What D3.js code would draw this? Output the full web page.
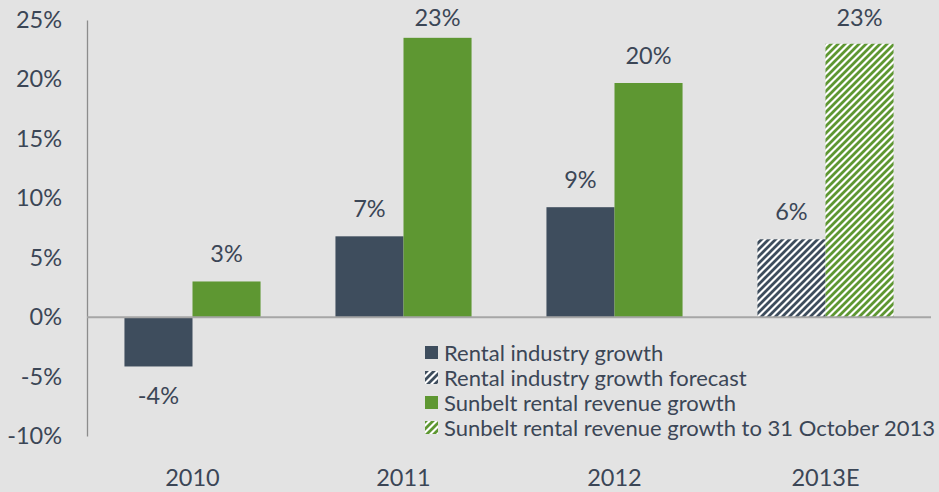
<!DOCTYPE html>
<html><head><meta charset="utf-8">
<script src="https://cdnjs.cloudflare.com/ajax/libs/d3/7.8.5/d3.min.js"></script>
<style>html,body{margin:0;padding:0;background:#e3e3e3;}svg{display:block;}</style>
</head><body>
<svg id="c" width="939" height="492"></svg>
<script>
const categories = ["2010", "2011", "2012", "2013E"];
const industryGrowth = [-4.15, 6.8, 9.25, 6.55];
const sunbeltGrowth = [3.0, 23.5, 19.7, 23.0];
const industryLabels = ["-4%", "7%", "9%", "6%"];
const sunbeltLabels = ["3%", "23%", "20%", "23%"];
const forecast = [false, false, false, true];
const yTicks = [-10, -5, 0, 5, 10, 15, 20, 25];
const legendItems = ["Rental industry growth", "Rental industry growth forecast", "Sunbelt rental revenue growth", "Sunbelt rental revenue growth to 31 October 2013"];

const dark = "#3e4d5d", green = "#5e9732", textC = "#3b4656";
const font = "Lato, 'Open Sans', sans-serif";
const fs = 23.5, lfs = 22;
const svg = d3.select("#c");
const defs = svg.append("defs");
function hatch(id, color) {
  const p = defs.append("pattern").attr("id", id).attr("patternUnits", "userSpaceOnUse")
    .attr("width", 7).attr("height", 7);
  p.append("rect").attr("width", 7).attr("height", 7).attr("fill", "#ffffff");
  p.append("path").attr("d", "M-2,2 L2,-2 M0,7 L7,0 M5,9 L9,5")
    .attr("stroke", color).attr("stroke-width", 2.8);
}
hatch("hDark", dark); hatch("hGreen", green);

const x0 = 87, x1 = 931;
const y = d3.scaleLinear().domain([-10, 25]).range([436, 20]);
const x = d3.scaleBand().domain(categories).range([x0, x1]).paddingInner(0.355).paddingOuter(0.1775);
const bw = x.bandwidth() / 2;

// y axis
const yAxis = d3.axisLeft(y).tickValues(yTicks).tickSize(0).tickPadding(25).tickFormat(d => d + "%");
const ga = svg.append("g").attr("transform", `translate(${x0},0)`).call(yAxis);
ga.select(".domain").attr("stroke", "#8c8c8c").attr("stroke-width", 1.3);
ga.selectAll("text").attr("font-family", font).attr("font-size", fs).attr("fill", textC);

// bars
const g = svg.append("g");
categories.forEach((c, i) => {
  const v1 = industryGrowth[i], v2 = sunbeltGrowth[i];
  g.append("rect").attr("x", x(c)).attr("width", bw)
    .attr("y", y(Math.max(0, v1))).attr("height", Math.abs(y(v1) - y(0)))
    .attr("fill", forecast[i] ? "url(#hDark)" : dark);
  g.append("rect").attr("x", x(c) + bw).attr("width", bw)
    .attr("y", y(Math.max(0, v2))).attr("height", Math.abs(y(v2) - y(0)))
    .attr("fill", forecast[i] ? "url(#hGreen)" : green);
  g.append("text").attr("x", x(c) + bw / 2)
    .attr("y", v1 >= 0 ? Math.max(26, y(v1) - 19) : y(v1) + 38)
    .attr("text-anchor", "middle").attr("font-family", font).attr("font-size", fs).attr("fill", textC)
    .text(industryLabels[i]);
  g.append("text").attr("x", x(c) + bw * 1.5)
    .attr("y", Math.max(26, y(v2) - 19))
    .attr("text-anchor", "middle").attr("font-family", font).attr("font-size", fs).attr("fill", textC)
    .text(sunbeltLabels[i]);
});

// zero line
svg.append("line").attr("x1", x0).attr("x2", x1).attr("y1", y(0)).attr("y2", y(0))
  .attr("stroke", "#a6a6a6").attr("stroke-width", 2);

// category labels
svg.append("g").selectAll("text").data(categories).join("text")
  .attr("x", d => x(d) + x.bandwidth() / 2).attr("y", 486)
  .attr("text-anchor", "middle").attr("font-family", font).attr("font-size", fs).attr("fill", textC)
  .text(d => d);

// legend
const fills = [dark, "url(#hDark)", green, "url(#hGreen)"];
const lg = svg.append("g");
legendItems.forEach((t, i) => {
  const yy = 353 + i * 25;
  lg.append("rect").attr("x", 425).attr("y", yy - 7).attr("width", 13).attr("height", 13).attr("fill", fills[i]);
  lg.append("text").attr("x", 444).attr("y", yy + 8).attr("font-family", font).attr("font-size", lfs)
    .attr("fill", textC).text(t);
});
</script>
</body></html>
